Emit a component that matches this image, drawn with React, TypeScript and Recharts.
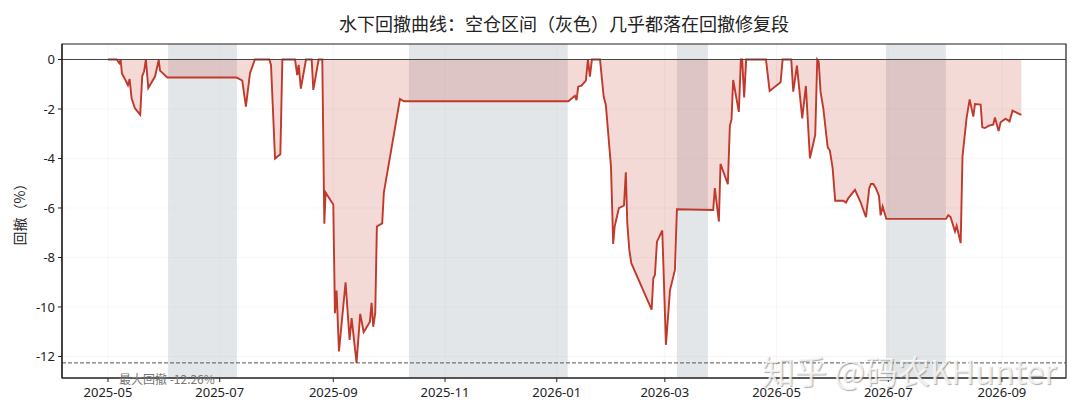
import React from "react";
import {
  ComposedChart,
  Area,
  XAxis,
  YAxis,
  CartesianGrid,
  ReferenceArea,
  ReferenceLine,
  ReferenceDot,
} from "recharts";

const FONT = '"Noto Sans CJK SC", "Noto Sans", sans-serif';
const TICK_FONT = '"Noto Sans", "Noto Sans CJK SC", sans-serif';

// days since 2025-05-01
const dayOffsets = [
  0, 4.7, 5.6, 6.2, 6.9, 7.6, 9.3, 10.9, 11.8, 12.9, 14.7, 17.6, 18.7, 19.7, 20.7, 22, 25.7, 27.7, 28.4, 32.4,
  70.2, 73.3, 75.3, 77.5, 80.2, 88.1, 89, 91.2, 94.1, 95.2, 102.1, 103.3, 104.1, 105.3, 108.1, 111.2, 112.1, 115, 117,
  118.1, 118.8, 123, 123.9, 124.8, 126.1, 129.7, 131.9, 133, 135.7, 137.7, 139.6, 143, 143.9, 144.8, 145.9, 146.8,
  149.7, 150.6, 159.4, 161.6, 251.3, 254.9, 255.8, 256.7, 258.5, 260.9, 262, 263.1, 264.2, 268.6, 270.6, 271.8, 274.6,
  275.8, 276.6, 278.9, 281.7, 282.7, 283.5, 284.6, 285.7, 296.8, 297.7, 298.6, 299.7, 302.6, 304.6, 306.8, 309.5,
  310.6, 330.4, 331.3, 333.5, 334.4, 338.4, 339.5, 340.4, 341.3, 344.4, 345.5, 346.2, 347.3, 348.4, 359.2, 361.2,
  367.2, 368.3, 373, 374.1, 376.1, 379, 381, 383.2, 386.1, 387.2, 388, 389, 390.5, 392.9, 394.1, 395.6, 397, 401.4,
  402.9, 404.1, 407.8, 410.7, 413.8, 415.6, 416.5, 417.8, 419.2, 420.9, 421.8, 422.9, 424.9, 457.5, 458.7, 460,
  462.4, 463.3, 465.5, 466.5, 468.7, 470.4, 472.4, 473.3, 476.4, 477.3, 478.7, 480.9, 483.3, 484.2, 486.2, 487.3,
  490, 492.2, 493.8, 496, 498.6,
];

const drawdownPct = [
  0, 0, -0.09, -0.15, 0, -0.56, -0.8, -1.04, -0.79, -1.57, -1.97, -2.23, -0.67, -0.49, 0, -1.15, -0.69, -0.02, -0.45, -0.73,
  -0.73, -0.85, -1.9, -0.56, 0, 0, -0.22, -4, -3.83, 0, 0, -0.63, -0.22, -1.18, 0, 0, -1.23, 0, 0,
  -6.64, -5.38, -5.86, -10.25, -9.34, -11.8, -9, -11.33, -10.45, -12.26, -10.28, -11.02, -10.6, -9.83, -10.8, -10.25, -6.75,
  -6.62, -5.38, -1.6, -1.69, -1.69, -1.47, -1.64, -1.1, -1.06, -0.85, 0, -0.69, 0, 0, -1.5, -1.84, -4.33,
  -7.45, -6.75, -6.01, -5.9, -4.56, -6.62, -7.69, -8.23, -10.11, -8.84, -8.7, -7.36, -6.91, -11.53, -9.33, -8.5,
  -6.05, -6.08, -5.2, -6.55, -4.22, -5.04, -2.68, -2.42, -0.83, -2.12, 0, 0, -1.53, 0, 0, -1.27,
  -0.92, 0, 0, -1.3, -0.25, -2.38, -1.07, -3.99, -3.05, 0, -0.09, -1.3, -1.97, -3.55, -3.68, -4.39, -5.71, -5.71,
  -5.78, -5.61, -5.27, -5.74, -6.37, -5.2, -5.03, -5.03, -5.2, -5.51, -6.3, -5.94, -6.44, -6.44, -6.29, -6.37,
  -6.95, -6.72, -7.42, -3.92, -2.38, -1.61, -2.31, -1.8, -1.82, -2.74, -2.77, -2.67, -2.63, -2.34, -2.89, -2.54,
  -2.39, -2.5, -2.07, -2.15, -2.24,
];

const flatSpans = [
  [32.8, 70.4],
  [164.3, 251],
  [310.6, 327.5],
  [424.7, 457.4],
];

const xTickDays = [0, 61, 123, 184, 245, 304, 365, 426, 488];
const xTickLabels = ["2025-05", "2025-07", "2025-09", "2025-11", "2026-01", "2026-03", "2026-05", "2026-07", "2026-09"];
const yTicks = [0, -2, -4, -6, -8, -10, -12];
const maxDrawdown = -12.26;
const X_DOMAIN = [-25.1, 523];
const Y_DOMAIN = [-12.87, 0.626];

const chartData = dayOffsets.map((day, i) => ({ day, dd: drawdownPct[i] }));

export default function App() {
  return (
    <div style={{ position: "absolute", left: 0, top: 0, width: 1080, height: 414, background: "#fff", overflow: "hidden", fontFamily: FONT }}>
      <div style={{ position: "absolute", left: 62, width: 1004, top: 9, textAlign: "center", fontSize: 18, lineHeight: "28px", color: "#222" }}>
        水下回撤曲线：空仓区间（灰色）几乎都落在回撤修复段
      </div>
      <ComposedChart
        width={1080}
        height={414}
        data={chartData}
        margin={{ top: 44, right: 14, bottom: 0, left: 12 }}
        style={{ fontFamily: FONT }}
      >
        <CartesianGrid stroke="#f4f4f4" strokeWidth={0.8} />
        <XAxis
          type="number"
          dataKey="day"
          domain={X_DOMAIN}
          ticks={xTickDays}
          tickFormatter={(v: number) => xTickLabels[xTickDays.indexOf(v)]}
          allowDataOverflow
          height={36}
          interval={0}
          tickSize={4}
          tickMargin={6}
          tick={{ fontSize: 13, fill: "#222", fontFamily: TICK_FONT }}
          axisLine={{ stroke: "#222", strokeWidth: 1.2 }}
          tickLine={{ stroke: "#222" }}
        />
        <YAxis
          type="number"
          domain={Y_DOMAIN}
          ticks={yTicks}
          allowDataOverflow
          width={50}
          interval={0}
          tickSize={4}
          tickMargin={3}
          tick={{ fontSize: 13, fill: "#222", fontFamily: TICK_FONT }}
          axisLine={{ stroke: "#222", strokeWidth: 1.2 }}
          tickLine={{ stroke: "#222" }}
          label={{ value: "回撤（%）", angle: -90, position: "insideLeft", offset: 8, style: { fontSize: 14, fill: "#222", textAnchor: "middle" } }}
        />
        {flatSpans.map(([a, b]) => (
          <ReferenceArea key={a} x1={a} x2={b} fill="#bdc3c7" fillOpacity={0.42} stroke="none" />
        ))}
        <Area
          type="linear"
          dataKey="dd"
          baseValue={0}
          stroke="#c0392b"
          strokeWidth={1.9}
          fill="#c0392b"
          fillOpacity={0.19}
          dot={false}
          activeDot={false}
          isAnimationActive={false}
        />
        <ReferenceLine y={0} stroke="#444" strokeWidth={1} />
        <ReferenceLine y={maxDrawdown} stroke="#444" strokeWidth={0.9} strokeDasharray="4 2" />
        <ReferenceArea x1={X_DOMAIN[0]} x2={X_DOMAIN[1]} y1={Y_DOMAIN[0]} y2={Y_DOMAIN[1]} fill="none" stroke="#222" strokeWidth={1.2} />
        <ReferenceDot
          x={6}
          y={-12.95}
          r={0}
          fill="none"
          stroke="none"
          ifOverflow="visible"
          label={{ value: "最大回撤 -12.26%", position: "right", offset: 0, fontSize: 12, fill: "#777" }}
        />
      </ComposedChart>
      <div style={{ position: "absolute", left: 762, top: 348, fontSize: 32.5, lineHeight: "44px", color: "rgba(255,255,255,0.8)", whiteSpace: "nowrap", textShadow: "1px 1px 1px rgba(120,120,120,0.6)" }}>
        知乎 @码农KHunter
      </div>
    </div>
  );
}
